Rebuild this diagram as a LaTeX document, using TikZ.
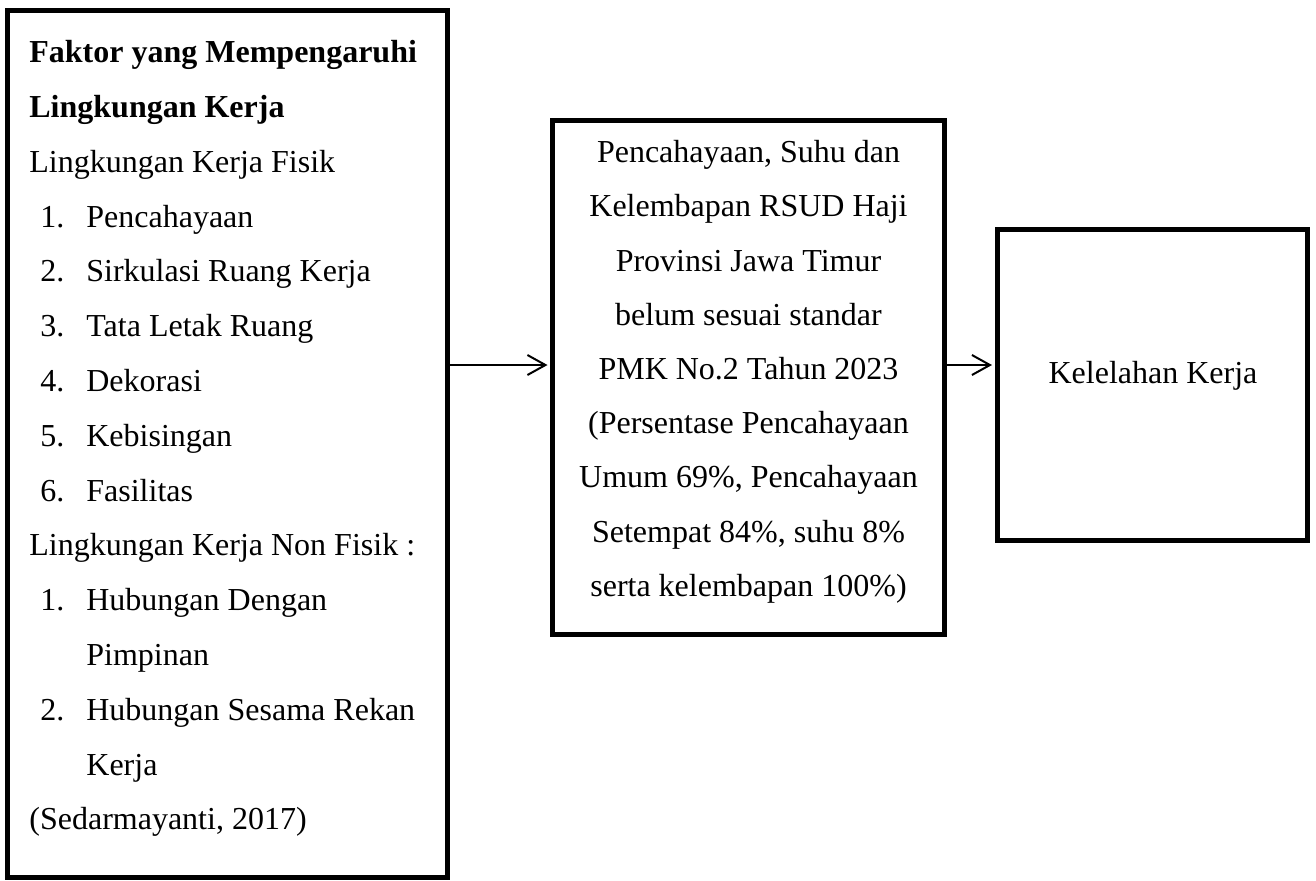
\documentclass[tikz,border=0pt]{standalone}
\usepackage{fontspec}
\setmainfont{Liberation Serif}
\usetikzlibrary{arrows.meta,positioning}

\newcommand\butir[2]{\hspace*{5.5pt}\makebox[23pt][l]{#1}#2}
\newcommand\lanjut[1]{\hspace*{28.5pt}#1}

\tikzset{
  kotak/.style={draw,line width=2.5pt,inner sep=0pt},
  teks/.style={inner sep=0pt,font=\fontsize{16pt}{27.4pt}\selectfont},
  alur/.style={-{Straight Barb[length=9pt,width=10pt]},line width=1pt,shorten >=1.25pt}
}

\begin{document}
\begin{tikzpicture}[x=0.5pt,y=-0.5pt]
\useasboundingbox (0,0) rectangle (1316,880);

\node[kotak,minimum width=220pt,minimum height=433.75pt] (faktor) at (227.5,443.75) {};
\node[kotak,minimum width=196pt,minimum height=257pt] (kondisi) at (748.5,377.5) {};
\node[kotak,minimum width=155.25pt,minimum height=155.25pt] (lelah) at (1152.25,384.75) {};

\node[teks,anchor=north west,align=left] (faktorteks) at (29,40) {%
  {\bfseries Faktor yang Mempengaruhi}\\
  {\bfseries Lingkungan Kerja}\\
  Lingkungan Kerja Fisik\\
  \butir{1.}{Pencahayaan}\\
  \butir{2.}{Sirkulasi Ruang Kerja}\\
  \butir{3.}{Tata Letak Ruang}\\
  \butir{4.}{Dekorasi}\\
  \butir{5.}{Kebisingan}\\
  \butir{6.}{Fasilitas}\\
  Lingkungan Kerja Non Fisik :\\
  \butir{1.}{Hubungan Dengan}\\
  \lanjut{Pimpinan}\\
  \butir{2.}{Hubungan Sesama Rekan}\\
  \lanjut{Kerja}\\
  (Sedarmayanti, 2017)};

\node[teks,anchor=north,align=center,font=\fontsize{16pt}{27.1pt}\selectfont] (kondisiteks) at (748.5,140) {%
  Pencahayaan, Suhu dan\\
  Kelembapan RSUD Haji\\
  Provinsi Jawa Timur\\
  belum sesuai standar\\
  PMK No.2 Tahun 2023\\
  (Persentase Pencahayaan\\
  Umum 69\%, Pencahayaan\\
  Setempat 84\%, suhu 8\%\\
  serta kelembapan 100\%)};

\coordinate (p1) at (0,365);
\coordinate (b1) at (1153,383);

\node[teks,anchor=base] (lelahteks) at (b1) {Kelelahan Kerja};

\draw[alur] (faktor.east |- p1) -- (kondisi.west |- p1);
\draw[alur] (kondisi.east |- p1) -- (lelah.west |- p1);

\end{tikzpicture}
\end{document}
